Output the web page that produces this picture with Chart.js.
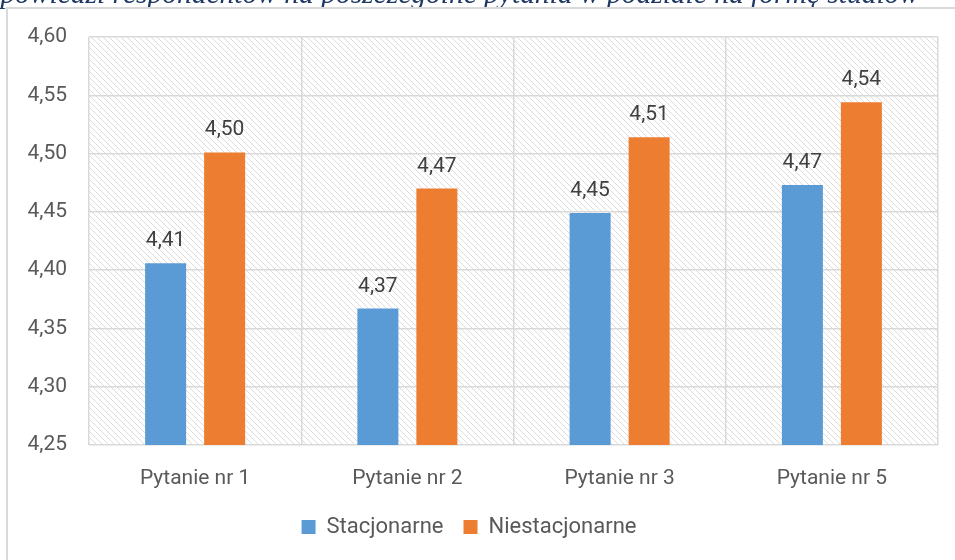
<!DOCTYPE html>
<html>
<head>
  <meta charset="utf-8">
  <script src="https://cdn.jsdelivr.net/npm/chart.js"></script>
  <style>
    body { margin: 0; background: #fff; }
    #frame { position: absolute; left: 6px; top: 7px; width: 1000px; height: 600px; border-left: 2px solid #d9d9d9; border-top: 2px solid #d9d9d9; }
    #wrap { position: absolute; left: 0; top: 0; width: 955px; height: 560px; overflow: hidden; }
  </style>
</head>
<body>
  <div id="wrap">
    <div id="frame"></div>
    <canvas id="myChart" width="955" height="560"></canvas>
  </div>

  <script>
    var title = 'Odpowiedzi respondentów na poszczególne pytania w podziale na formę studiów';
    var labels = ['Pytanie nr 1', 'Pytanie nr 2', 'Pytanie nr 3', 'Pytanie nr 5'];
    var stacjonarne = [4.406, 4.367, 4.449, 4.473];
    var niestacjonarne = [4.501, 4.470, 4.514, 4.544];

    var fmt = v => Number(v).toFixed(2).replace('.', ',');

    // hatch tile for the plot background
    function hatch() {
      var s = 6, c = document.createElement('canvas');
      c.width = s; c.height = s;
      var g = c.getContext('2d');
      g.strokeStyle = '#dcdcdc';
      g.lineWidth = 1;
      [-s, 0, s].forEach(k => {
        g.beginPath(); g.moveTo(k, 0); g.lineTo(k + s, s); g.stroke();
      });
      return c;
    }

    var bgPlugin = {
      id: 'bg',
      beforeDraw(chart) {
        var a = chart.chartArea, ctx = chart.ctx;
        ctx.save();
        ctx.fillStyle = ctx.createPattern(hatch(), 'repeat');
        ctx.fillRect(a.left, a.top, a.right - a.left, a.bottom - a.top);
        ctx.restore();
      },
      afterDraw(chart) {
        // cut-off title above the chart
        var ctx = chart.ctx;
        ctx.save();
        ctx.font = 'italic 30px "Liberation Serif"';
        var w = ctx.measureText(title.slice(2)).width;
        var size = 30 * 919 / w;
        ctx.font = 'italic ' + size + 'px "Liberation Serif"';
        ctx.fillStyle = '#1f3864';
        ctx.textAlign = 'right';
        ctx.textBaseline = 'alphabetic';
        ctx.fillText(title, 919, 3);
        ctx.restore();
      }
    };

    var labelPlugin = {
      id: 'vals',
      afterDatasetsDraw(chart) {
        var ctx = chart.ctx;
        ctx.save();
        ctx.font = '21px Roboto';
        ctx.fillStyle = '#404040';
        ctx.textAlign = 'center';
        ctx.textBaseline = 'alphabetic';
        chart.data.datasets.forEach((ds, i) => {
          chart.getDatasetMeta(i).data.forEach((bar, j) => {
            ctx.fillText(fmt(ds.data[j]), bar.x, bar.y - 17);
          });
        });
        ctx.restore();
      }
    };

    var ctx = document.getElementById('myChart').getContext('2d');
    var myChart = new Chart(ctx, {
      type: 'bar',
      data: {
        labels: labels,
        datasets: [{
          label: 'Stacjonarne',
          data: stacjonarne,
          backgroundColor: '#5b9bd5'
        }, {
          label: 'Niestacjonarne',
          data: niestacjonarne,
          backgroundColor: '#ed7d31'
        }]
      },
      options: {
        responsive: false,
        animation: false,
        categoryPercentage: 0.556,
        barPercentage: 0.695,
        layout: { padding: { top: 37, right: 17, bottom: 12, left: 0 } },
        plugins: {
          tooltip: { enabled: false },
          legend: {
            position: 'bottom',
            labels: {
              boxWidth: 14, boxHeight: 14, padding: 20,
              color: '#595959',
              font: { family: 'Roboto', size: 22 }
            }
          }
        },
        scales: {
          x: {
            grid: { color: '#d9d9d9', lineWidth: 1.5, drawTicks: false },
            border: { display: false },
            ticks: { color: '#595959', font: { family: 'Roboto', size: 21 }, padding: 21 },
            afterFit: s => { s.height = 51; }
          },
          y: {
            min: 4.25,
            max: 4.60,
            grid: { color: '#d9d9d9', lineWidth: 1.5, drawTicks: false },
            border: { display: false },
            ticks: {
              stepSize: 0.05,
              color: '#595959',
              font: { family: 'Roboto', size: 21 },
              padding: 22,
              callback: v => fmt(v)
            },
            afterFit: s => { s.width = 89; }
          }
        }
      },
      plugins: [bgPlugin, labelPlugin]
    });
  </script>
</body>
</html>
